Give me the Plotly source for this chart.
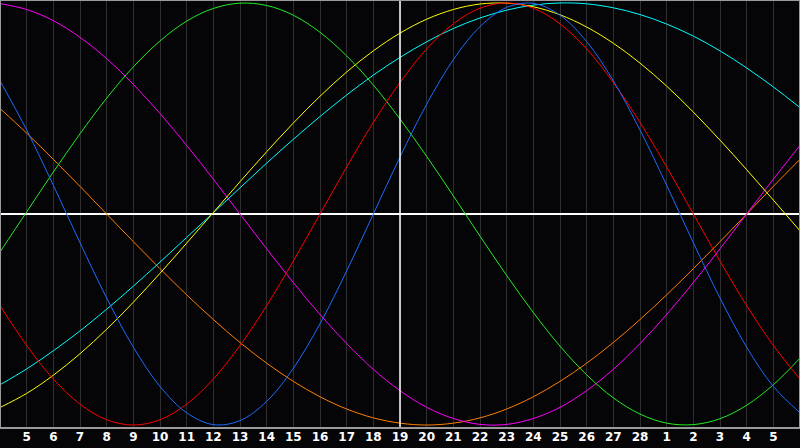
"""
Biorhythm-style chart: seven cycles over a month window, recreated with Plotly.
"""

import plotly.graph_objects as go

# =============================================================================
# Data (one per day)
# =============================================================================
day_labels = ['4', '5', '6', '7', '8', '9', '10', '11', '12', '13', '14', '15',
              '16', '17', '18', '19', '20', '21', '22', '23', '24', '25', '26',
              '27', '28', '1', '2', '3', '4', '5', '6']
day_index = list(range(len(day_labels)))
today_index = 15

red_vals = [-0.434, -0.623, -0.782, -0.901, -0.975, -1.0, -0.975, -0.901, -0.782,
            -0.623, -0.434, -0.223, 0.0, 0.223, 0.434, 0.623, 0.782, 0.901, 0.975,
            1.0, 0.975, 0.901, 0.782, 0.623, 0.434, 0.223, 0.0, -0.223, -0.434,
            -0.623, -0.782]
blue_vals = [0.631, 0.398, 0.136, -0.136, -0.398, -0.631, -0.817, -0.942, -0.998,
             -0.979, -0.888, -0.731, -0.520, -0.270, 0.0, 0.270, 0.520, 0.731, 0.888,
             0.979, 0.998, 0.942, 0.817, 0.631, 0.398, 0.136, -0.136, -0.398, -0.631,
             -0.817, -0.942]
green_vals = [-0.180, 0.010, 0.199, 0.380, 0.549, 0.697, 0.820, 0.914, 0.974, 0.999,
              0.988, 0.942, 0.861, 0.749, 0.611, 0.450, 0.273, 0.086, -0.105, -0.291,
              -0.467, -0.626, -0.762, -0.871, -0.948, -0.991, -0.998, -0.970, -0.906,
              -0.809, -0.683]
magenta_vals = [0.997, 0.969, 0.916, 0.837, 0.736, 0.614, 0.476, 0.325, 0.165, 0.0,
                -0.165, -0.325, -0.476, -0.614, -0.736, -0.837, -0.916, -0.969, -0.997,
                -0.997, -0.969, -0.916, -0.837, -0.736, -0.614, -0.476, -0.325, -0.165,
                0.0, 0.165, 0.325]
orange_vals = [0.5, 0.383, 0.259, 0.131, 0.0, -0.131, -0.259, -0.383, -0.5, -0.609,
               -0.707, -0.793, -0.866, -0.924, -0.966, -0.991, -1.0, -0.991, -0.966,
               -0.924, -0.866, -0.793, -0.707, -0.609, -0.5, -0.383, -0.259, -0.131,
               0.0, 0.131, 0.259]
yellow_vals = [-0.917, -0.850, -0.764, -0.662, -0.546, -0.418, -0.281, -0.138, 0.007,
               0.153, 0.295, 0.431, 0.558, 0.673, 0.773, 0.857, 0.923, 0.969, 0.995,
               0.999, 0.982, 0.944, 0.886, 0.809, 0.715, 0.606, 0.483, 0.350, 0.210,
               0.066, -0.080]
cyan_vals = [-0.809, -0.734, -0.648, -0.554, -0.451, -0.342, -0.228, -0.111, 0.006,
             0.124, 0.241, 0.354, 0.462, 0.564, 0.658, 0.742, 0.816, 0.879, 0.929,
             0.966, 0.990, 1.0, 0.996, 0.977, 0.945, 0.900, 0.843, 0.773, 0.692,
             0.602, 0.504]

series = [
    ('orange', orange_vals, '#ff7f00'),
    ('magenta', magenta_vals, '#ff00ff'),
    ('cyan', cyan_vals, '#00ffff'),
    ('yellow', yellow_vals, '#ffff00'),
    ('green', green_vals, '#22ee22'),
    ('red', red_vals, '#ff0000'),
    ('blue', blue_vals, '#1a6cff'),
]

# =============================================================================
# Figure
# =============================================================================
fig = go.Figure()

for name, vals, color in series:
    fig.add_trace(go.Scatter(
        x=day_index, y=vals,
        mode='lines',
        line=dict(color=color, width=1, shape='spline', smoothing=1.0),
        name=name,
        hoverinfo='skip',
    ))

# today marker
fig.add_vline(x=today_index, line=dict(color='#ffffff', width=1.5))

# frame
fig.add_shape(type='rect', xref='paper', yref='paper', x0=0, x1=1, y0=0, y1=1,
              line=dict(color='#9a9a9a', width=2))

fig.update_layout(
    width=800,
    height=448,
    margin=dict(l=0, r=0, t=0, b=20, autoexpand=False),
    paper_bgcolor='#050407',
    plot_bgcolor='#050407',
    showlegend=False,
    xaxis=dict(
        range=[0, len(day_labels) - 1],
        tickmode='array',
        tickvals=day_index[1:-1],
        ticktext=day_labels[1:-1],
        showgrid=True,
        gridcolor='#2e2e2e',
        gridwidth=1,
        zeroline=False,
        ticks='',
        automargin=False,
        tickfont=dict(family='DejaVu Sans', size=12, color='#ffffff', weight='bold'),
        fixedrange=True,
    ),
    yaxis=dict(
        range=[-1.014, 1.014],
        showgrid=False,
        showticklabels=False,
        zeroline=True,
        zerolinecolor='#ffffff',
        zerolinewidth=1.5,
        automargin=False,
        fixedrange=True,
    ),
)

# page body has a default margin; drop it so the chart sits at the window corner
fig.write_html("out.html", config={'displayModeBar': False},
               post_script="document.body.style.margin='0';")
